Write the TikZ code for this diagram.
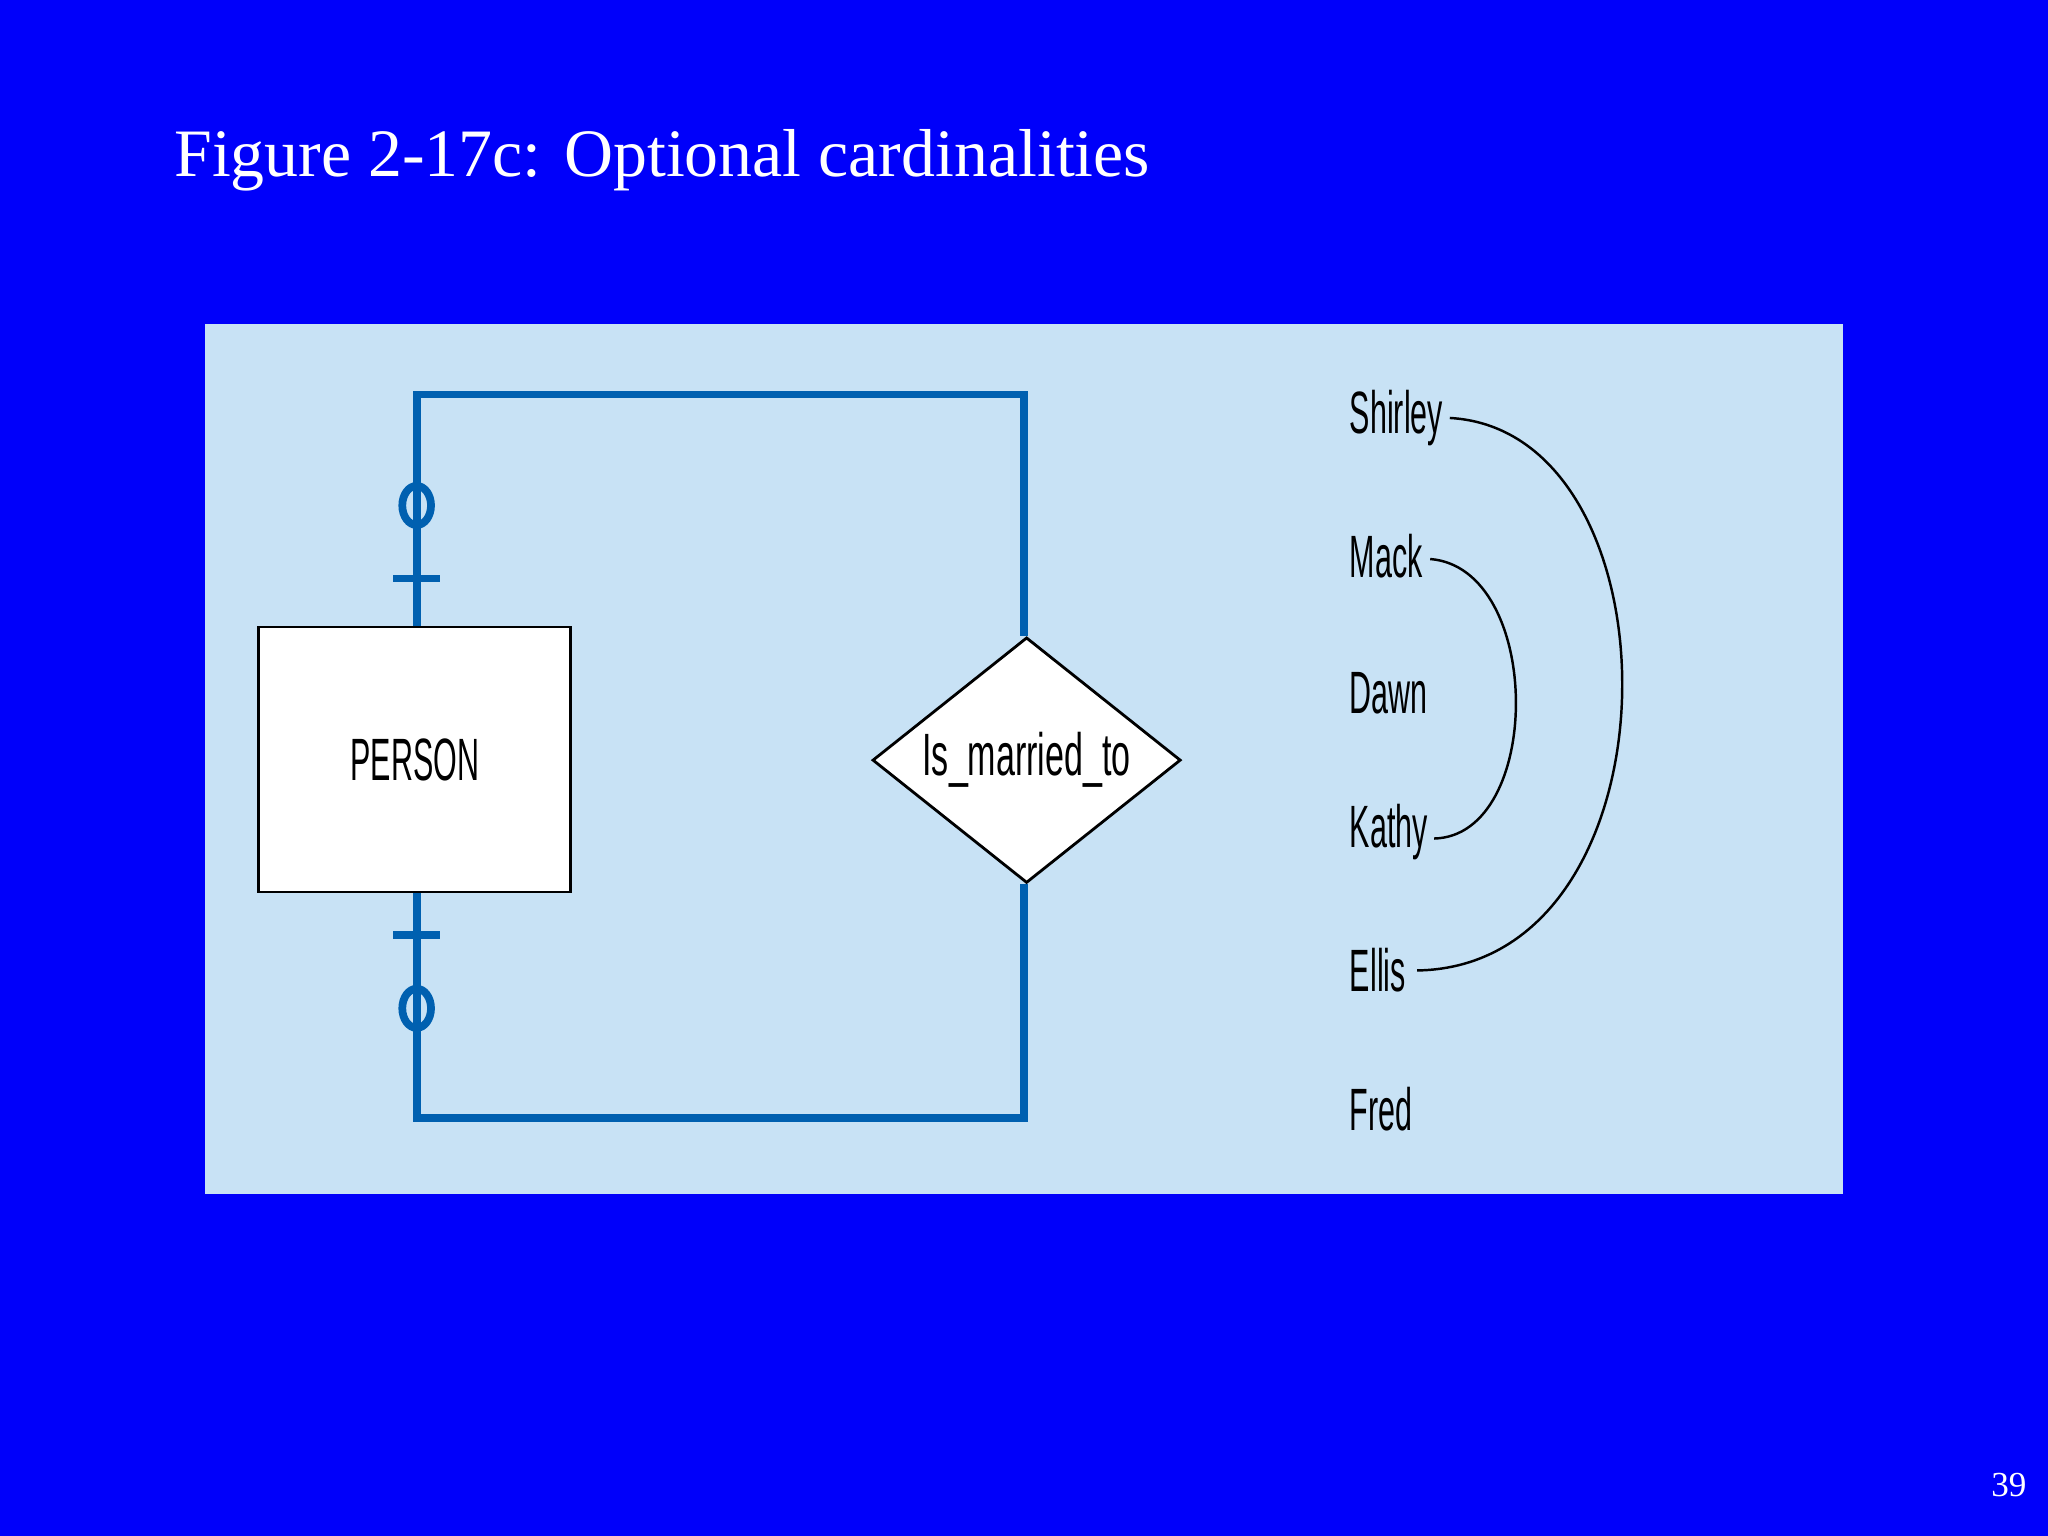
\documentclass[tikz,border=0pt]{standalone}
\usepackage{fontspec}
\setmainfont{Liberation Serif}
\newfontfamily\erfont{Liberation Sans}
\usetikzlibrary{shapes.geometric}
\definecolor{slideblue}{RGB}{0,0,250}
\definecolor{panel}{RGB}{200,226,245}
\definecolor{erline}{RGB}{0,96,176}
\newcommand{\nm}[1]{\erfont\fontsize{17}{17}\selectfont\scalebox{0.51}[1]{#1}}
\tikzset{
  erl/.style={draw=erline,line width=2.2pt},
  lbl/.style={anchor=west,inner sep=0pt},
  arcline/.style={draw=black,line width=0.7pt}
}
\begin{document}
\begin{tikzpicture}[x=0.013061cm,y=-0.013061cm]
\fill[slideblue] (0,0) rectangle (1568,1176);
\useasboundingbox (0,0) rectangle (1568,1176);
\node[anchor=base west,inner sep=0pt,text=white,font=\fontsize{19.3}{20}\selectfont] (title) at (133,135) {Figure 2-17c: Optional cardinalities};
\node[anchor=base east,inner sep=0pt,text=white,font=\fontsize{10}{10}\selectfont] (pg) at (1552,1146) {39};
\fill[panel] (157,248) rectangle (1411,914);
% connectors
\draw[erl] (319,480) -- (319,302) -- (784,302) -- (784,487);
\draw[erl] (319,683) -- (319,856) -- (784,856) -- (784,677);
\draw[erl] (301,443) -- (337,443);
\draw[erl] (301,716) -- (337,716);
\draw[erl] (319,387) ellipse [x radius=11,y radius=15];
\draw[erl] (319,772) ellipse [x radius=11,y radius=15];
\node[draw=black,fill=white,line width=0.8pt,minimum width=239*0.013061cm,minimum height=203*0.013061cm,inner sep=0pt] (person) at (317.5,581.5) {\erfont\fontsize{17}{17}\selectfont\scalebox{0.51}[1]{PERSON}};
\node[diamond,draw=black,fill=white,line width=0.8pt,aspect=1.25,minimum width=236*0.013061cm,minimum height=188*0.013061cm,inner sep=0pt] (rel) at (786,582) {\erfont\fontsize{17}{17}\selectfont\scalebox{0.57}[1]{Is\_married\_to}};
% names
\node[lbl] (shirley) at (1033,320) {\nm{Shirley}};
\node[lbl] (mack) at (1033,426) {\nm{Mack}};
\node[lbl] (dawn) at (1033,531) {\nm{Dawn}};
\node[lbl] (kathy) at (1033,637) {\nm{Kathy}};
\node[lbl] (ellis) at (1033,743) {\nm{Ellis}};
\node[lbl] (fred) at (1033,849) {\nm{Fred}};
\coordinate (s1) at (1110,320);
\coordinate (e1) at (1085,743);
\coordinate (m1) at (1095,428);
\coordinate (k1) at (1098,642);
\draw[arcline] (s1) .. controls (1290,330) and (1290,740) .. (e1);
\draw[arcline] (m1) .. controls (1182,435) and (1182,640) .. (k1);
\end{tikzpicture}
\end{document}
